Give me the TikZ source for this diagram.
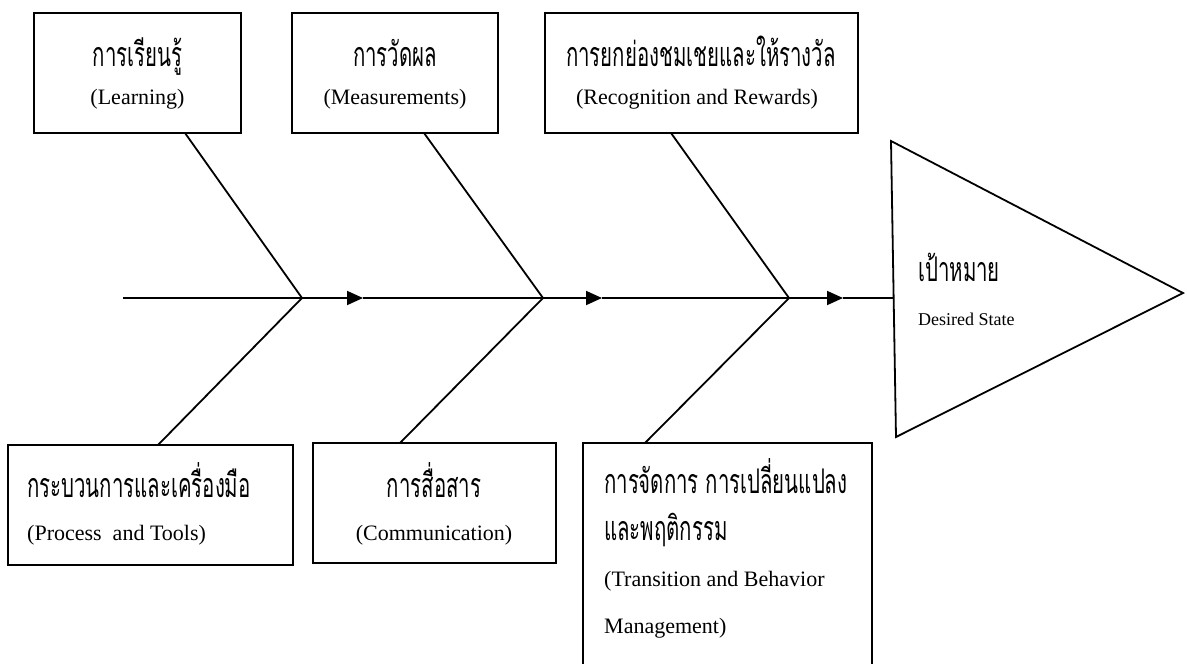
\documentclass[tikz,border=0pt]{standalone}
\usepackage{fontspec}
\setmainfont{Liberation Serif}
\newfontfamily\thaifont[Script=Thai,FakeStretch=0.6]{Loma}
\usetikzlibrary{arrows.meta}
\begin{document}
\begin{tikzpicture}[x=1pt,y=-1pt,
  box/.style={draw,line width=1.8pt,anchor=north west,inner sep=0pt,outer sep=0pt},
  ln/.style={line width=1.8pt},
  arr/.style={line width=1.8pt,-{Triangle[length=16pt,width=14pt]}},
  th/.style={font=\thaifont\fontsize{34}{38}\selectfont,inner sep=0pt,anchor=base},
  en/.style={font=\fontsize{22}{26}\selectfont,inner sep=0pt,anchor=base},
  ]
\useasboundingbox (0,0) rectangle (1187,664);
\fill[white] (0,0) rectangle (1187,664);
% boxes
\node[box,minimum width=207pt,minimum height=120pt] (b1) at (34,13) {};
\node[box,minimum width=206pt,minimum height=120pt] (b2) at (292,13) {};
\node[box,minimum width=313pt,minimum height=120pt] (b3) at (545,13) {};
\node[box,minimum width=285pt,minimum height=120pt] (b4) at (8,445) {};
\node[box,minimum width=243pt,minimum height=120pt] (b5) at (313,443) {};
\node[box,minimum width=289pt,minimum height=240pt] (b6) at (583,443) {};
% spine
\coordinate (s0) at (123,298);
\coordinate (j1) at (302,298);
\coordinate (a1) at (363,298);
\coordinate (j2) at (543,298);
\coordinate (a2) at (602,298);
\coordinate (j3) at (789,298);
\coordinate (a3) at (843,298);
\coordinate (te) at (893.5,298);
% goal triangle
\coordinate (t1) at (891,141);
\coordinate (t2) at (1183,293);
\coordinate (t3) at (896,437);
\draw[ln,line join=miter] (t1) -- (t2) -- (t3) -- cycle;
\draw[ln] (s0) -- (j1);
\draw[arr] (j1) -- (a1);
\draw[ln] (a1) -- (j2);
\draw[arr] (j2) -- (a2);
\draw[ln] (a2) -- (j3);
\draw[arr] (j3) -- (a3);
\draw[ln] (a3) -- (te);
% bones
\draw[ln] ([xshift=151pt]b1.south west) -- (j1);
\draw[ln] ([xshift=132pt]b2.south west) -- (j2);
\draw[ln] ([xshift=126pt]b3.south west) -- (j3);
\draw[ln] ([xshift=150pt]b4.north west) -- (j1);
\draw[ln] ([xshift=87pt]b5.north west) -- (j2);
\draw[ln] ([xshift=62pt]b6.north west) -- (j3);
% texts
\node[th] (b1t) at (137.5,66) {การเรียนรู้};
\node[en] (b1e) at (137.5,104) {(Learning)};
\node[th] (b2t) at (395,66) {การวัดผล};
\node[en] (b2e) at (395,104) {(Measurements)};
\node[th] (b3t) at (701,66) {การยกย่องชมเชยและให้รางวัล};
\node[en] (b3e) at (697,104) {(Recognition and Rewards)};
\node[th,anchor=base west] (b4t) at (27,497) {กระบวนการและเครื่องมือ};
\node[en,anchor=base west] (b4e) at (27,540) {(Process\ \ and Tools)};
\node[th] (b5t) at (434,497) {การสื่อสาร};
\node[en] (b5e) at (434,540) {(Communication)};
\node[th,anchor=base west] (b6t1) at (604,493) {การจัดการ การเปลี่ยนแปลง};
\node[th,anchor=base west] (b6t2) at (604,540) {และพฤติกรรม};
\node[en,anchor=base west] (b6e1) at (604,586) {(Transition and Behavior};
\node[en,anchor=base west] (b6e2) at (604,633) {Management)};
\node[th,anchor=base west] (gt) at (918,281) {เป้าหมาย};
\node[en,anchor=base west,font=\fontsize{18}{22}\selectfont] (ge) at (918,325) {Desired State};
\end{tikzpicture}
\end{document}
